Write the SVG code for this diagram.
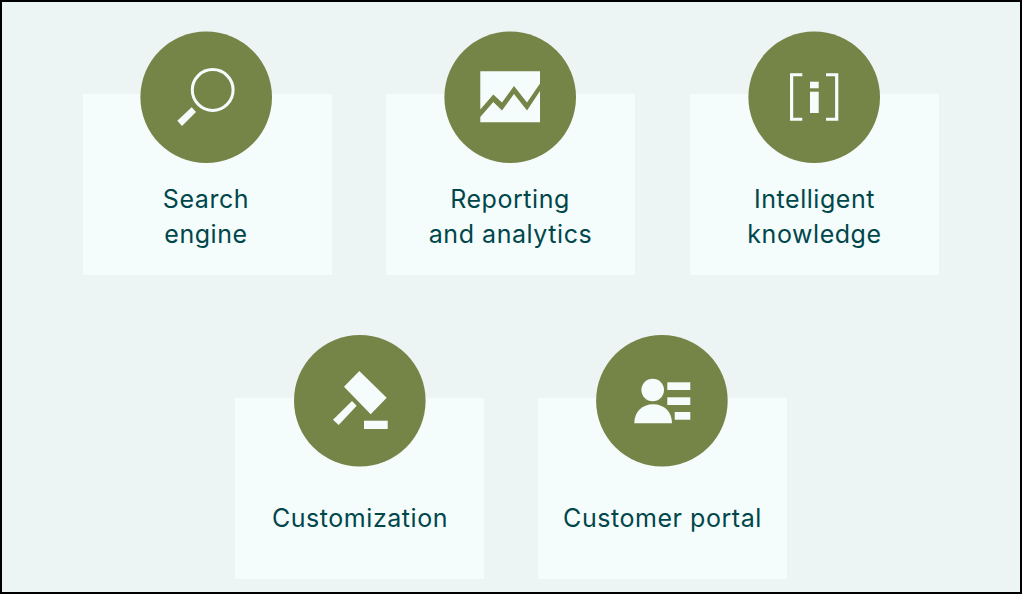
<svg xmlns="http://www.w3.org/2000/svg" width="1022" height="594" viewBox="0 0 1022 594">
<style>
.card{fill:#f5fcfc}.disc{fill:#758548}.ic{fill:#f5fcfc}
text{font-family:"Inter","Liberation Sans",sans-serif;font-size:25px;letter-spacing:.55px;fill:#00474b;text-anchor:middle}
</style>
<rect x="1" y="1" width="1020" height="592" fill="#ecf5f4" stroke="#000" stroke-width="2"/>
<g id="node-search"><rect class="card" x="83" y="94" width="249" height="181"/><circle class="disc" cx="206.2" cy="97.2" r="65.8"/>
<circle cx="212.7" cy="90" r="20.4" fill="none" stroke="#f5fcfc" stroke-width="3"/><polygon class="ic" points="191.7,107.3 196,112 182,126 177.3,120.7"/>
<text x="206" y="208">Search</text><text x="206" y="243">engine</text></g>
<g id="node-reporting"><rect class="card" x="386" y="94" width="249" height="181"/><circle class="disc" cx="510.2" cy="97.2" r="65.8"/>
<polygon class="ic" points="480.3,71.3 540,71.3 540,83.5 527,102.5 514,86 502,102.5 493.3,94.5 480.3,109.5"/><polygon class="ic" points="480.3,122.3 540,122.3 540,91 527,110.5 514,94 502,110.5 493.3,102 480.3,117"/>
<text x="510" y="208">Reporting</text><text x="510.5" y="243">and analytics</text></g>
<g id="node-knowledge"><rect class="card" x="690" y="94" width="249" height="181"/><circle class="disc" cx="814.2" cy="97.2" r="65.8"/>
<polygon class="ic" points="790,73.3 802.3,73.3 802.3,76.3 793.2,76.3 793.2,117.7 802.3,117.7 802.3,120.7 790,120.7"/><polygon class="ic" points="838.3,73.3 826,73.3 826,76.3 835.1,76.3 835.1,117.7 826,117.7 826,120.7 838.3,120.7"/><rect class="ic" x="810" y="81.7" width="8.7" height="6.6"/><rect class="ic" x="810" y="91.7" width="8.7" height="21.3"/>
<text x="814.5" y="208">Intelligent</text><text x="814.5" y="243">knowledge</text></g>
<g id="node-customization"><rect class="card" x="235" y="398" width="249" height="181"/><circle class="disc" cx="359.8" cy="400.8" r="65.8"/>
<polygon class="ic" points="359.3,371 386.7,397.7 370.7,414.3 344,386.7"/><polygon class="ic" points="352,401 356.7,405.7 338.7,425 333,419.7"/><rect class="ic" x="364" y="420.7" width="23.7" height="8.3"/>
<text x="360" y="527">Customization</text></g>
<g id="node-portal"><rect class="card" x="538" y="398" width="249" height="181"/><circle class="disc" cx="661.9" cy="400.8" r="65.8"/>
<circle class="ic" cx="652.7" cy="390" r="11.3"/><path class="ic" d="M634.3 423.3C634.3 412 642 404.3 653.2 404.3S672 412 672 423.3Z"/><rect class="ic" x="667.3" y="382.3" width="23" height="7.7"/><rect class="ic" x="667.3" y="397.3" width="23" height="7.7"/><rect class="ic" x="674.7" y="412" width="15.6" height="7.7"/>
<text x="662.5" y="527">Customer portal</text></g>
<g id="connectors"/>
</svg>
